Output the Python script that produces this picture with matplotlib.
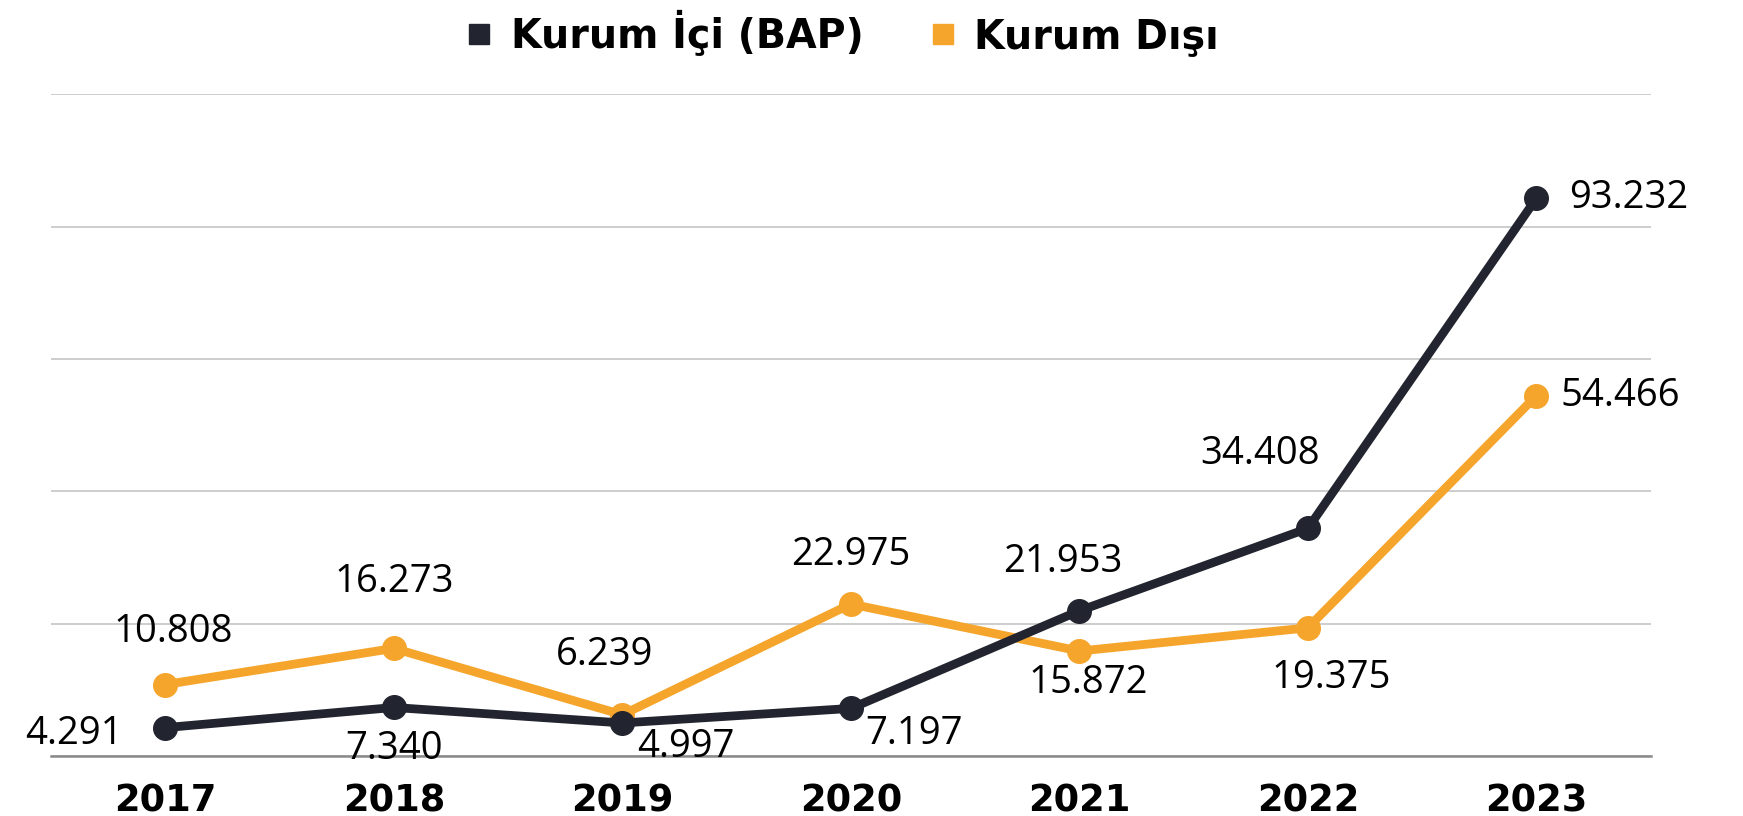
import matplotlib
matplotlib.use("Agg")
import matplotlib.pyplot as plt
from matplotlib.lines import Line2D

# ---- data ----
years = ["2017", "2018", "2019", "2020", "2021", "2022", "2023"]
# Kurum İçi (BAP): values as drawn (the 2023 point sits at ~84k in the picture though labelled 93.232)
kurum_ici = [4291, 7340, 4997, 7197, 21953, 34408, 84300]
kurum_ici_labels = ["4.291", "7.340", "4.997", "7.197", "21.953", "34.408", "93.232"]
kurum_disi = [10808, 16273, 6239, 22975, 15872, 19375, 54466]
kurum_disi_labels = ["10.808", "16.273", "6.239", "22.975", "15.872", "19.375", "54.466"]
series_names = ["Kurum İçi (BAP)", "Kurum Dışı"]
y_ticks = [0, 20000, 40000, 60000, 80000, 100000]

DARK = "#22252f"
ORANGE = "#f5a52b"

# label offsets (pixels) and alignment
ici_offsets = [(-91, -6, "center"), (0, -42, "center"), (63, -24, "center"), (63, -26, "center"),
               (-17, 49, "center"), (-48, 74, "center"), (33, 0, "left")]
disi_offsets = [(8, 53, "center"), (0, 66, "center"), (-18, 60, "center"), (0, 49, "center"),
                (9, -32, "center"), (23, -50, "center"), (24, 0, "left")]

fig = plt.figure(figsize=(17.43, 8.16), dpi=100)
ax = fig.add_axes([0.0293, 0.0735, 0.9177, 0.8107])

x = list(range(len(years)))
ax.plot(x, kurum_disi, color=ORANGE, lw=6.3, marker="o", ms=17, zorder=3, solid_capstyle="round")
ax.plot(x, kurum_ici, color=DARK, lw=6.3, marker="o", ms=17, zorder=4, solid_capstyle="round")

ax.set_xlim(-0.5, len(years) - 0.5)
ax.set_ylim(0, 100000)
ax.set_yticks(y_ticks)
ax.set_yticklabels([])
ax.tick_params(axis="y", length=0)
ax.grid(axis="y", color="#c9c9c9", lw=1.3, zorder=0)
ax.set_xticks(x)
ax.set_xticklabels(years, fontsize=26.5, fontweight="bold", color="black")
ax.tick_params(axis="x", length=0, pad=19)
for s in ["top", "right", "left"]:
    ax.spines[s].set_visible(False)
ax.spines["bottom"].set_color("#8a8a8a")
ax.spines["bottom"].set_linewidth(1.8)

def put_labels(vals, labels, offsets):
    for xi, v, lab, (dx, dy, ha) in zip(x, vals, labels, offsets):
        ax.annotate(lab, (xi, v), xytext=(dx, dy), textcoords="offset pixels",
                    ha=ha, va="center", fontsize=27.5, color="black", zorder=6,
                    family=["Open Sans", "DejaVu Sans"], annotation_clip=False)

put_labels(kurum_ici, kurum_ici_labels, ici_offsets)
put_labels(kurum_disi, kurum_disi_labels, disi_offsets)

handles = [Line2D([], [], marker="s", ls="none", color=DARK, ms=14),
           Line2D([], [], marker="s", ls="none", color=ORANGE, ms=14)]
fig.legend(handles, series_names, loc="center", bbox_to_anchor=(0.4815, 0.958), ncol=2,
           frameon=False, prop={"size": 28.5, "weight": "bold"}, handletextpad=0.3,
           columnspacing=1.5, handlelength=1.0)

fig.savefig("out.png", dpi=100, facecolor="white")
